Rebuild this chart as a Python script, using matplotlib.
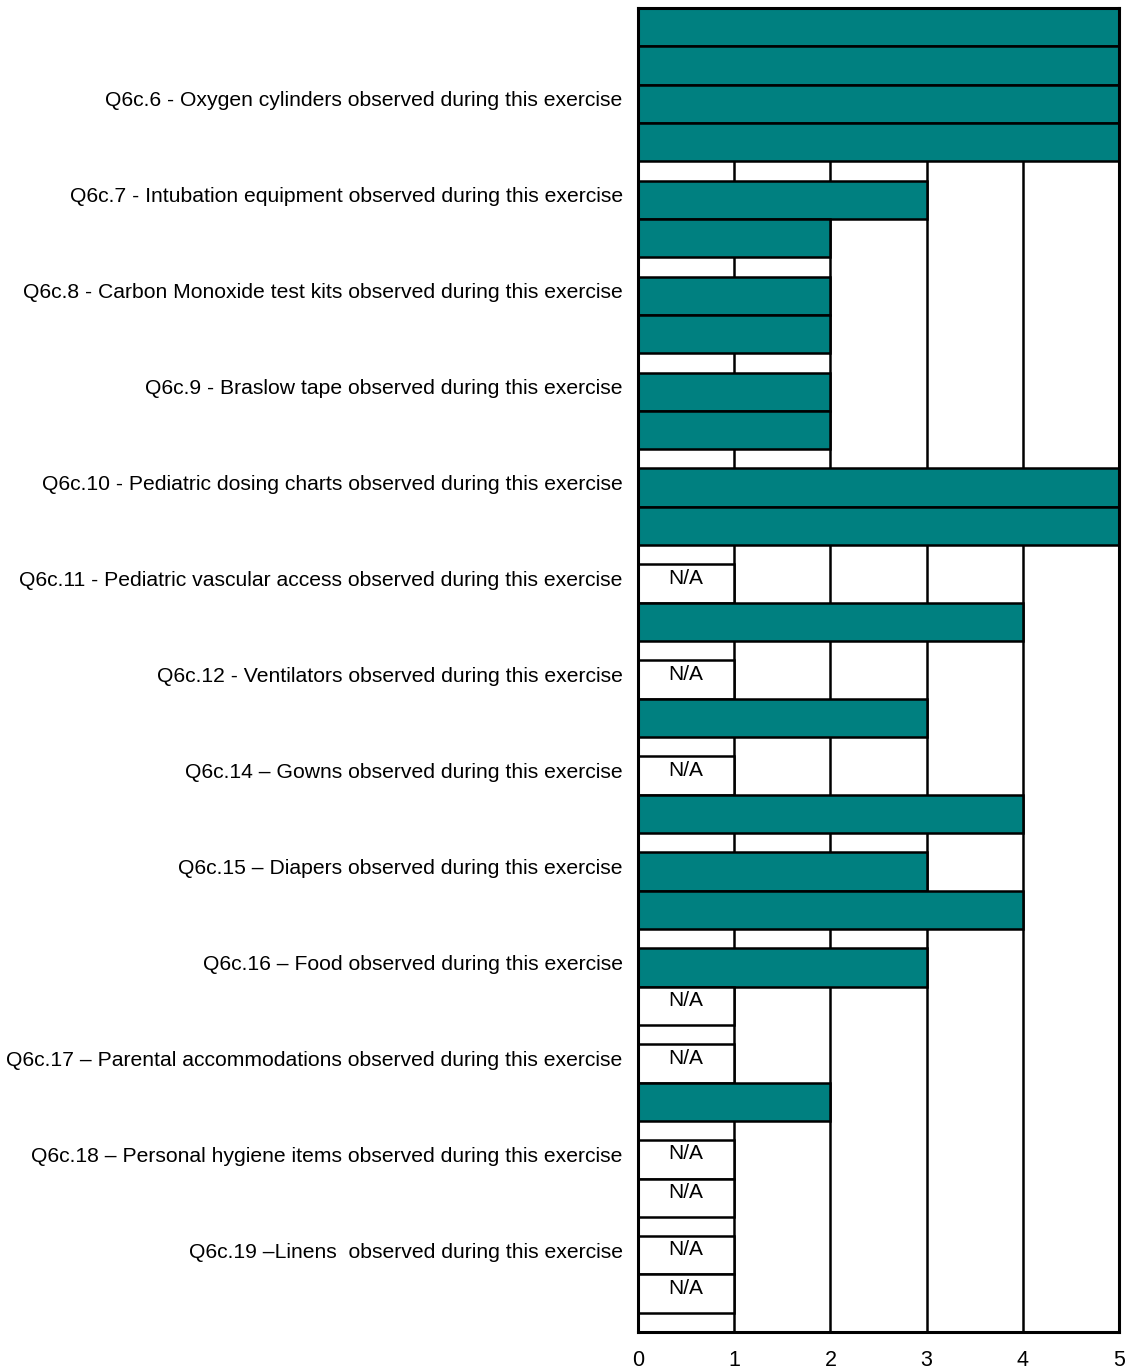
from matplotlib import pyplot as plt
import numpy as np

plt.rcParams['font.family'] = ['Liberation Sans', 'DejaVu Sans']

questions = [
    "Q6c.6 - Oxygen cylinders observed during this exercise",
    "Q6c.7 - Intubation equipment observed during this exercise",
    "Q6c.8 - Carbon Monoxide test kits observed during this exercise",
    "Q6c.9 - Braslow tape observed during this exercise",
    "Q6c.10 - Pediatric dosing charts observed during this exercise",
    "Q6c.11 - Pediatric vascular access observed during this exercise",
    "Q6c.12 - Ventilators observed during this exercise",
    "Q6c.14 \u2013 Gowns observed during this exercise",
    "Q6c.15 \u2013 Diapers observed during this exercise",
    "Q6c.16 \u2013 Food observed during this exercise",
    "Q6c.17 \u2013 Parental accommodations observed during this exercise",
    "Q6c.18 \u2013 Personal hygiene items observed during this exercise",
    "Q6c.19 \u2013Linens  observed during this exercise",
]

# two responses per question, None = N/A
first_response = [5, 3, 2, 2, 5, None, None, None, 3, 3, None, None, None]
second_response = [5, 2, 2, 2, 5, 4, 3, 4, 4, None, 2, None, None]
# bars carried over above the first question
carry_over = [5, 5]

x_ticks = [0, 1, 2, 3, 4, 5]

teal = '#008080'
edge_lw = 1.8

fig = plt.figure(figsize=(11.27, 13.69), dpi=100)
ax = fig.add_axes([0.5661, 0.0270, 0.4268, 0.9672])

n = len(questions)
group_start = 1.5 + 2.5 * np.arange(n)
y_first = group_start + 1.0
y_second = group_start + 2.0

def draw_bars(ys, vals):
    for y, v in zip(ys, vals):
        if v is None:
            ax.barh(y, 1, height=1.0, color='white', edgecolor='black',
                    linewidth=edge_lw, zorder=3)
            ax.text(0.5, y - 0.14, 'N/A', ha='center', va='center',
                    fontsize=15, zorder=4)
        else:
            ax.barh(y, v, height=1.0, color=teal, edgecolor='black',
                    linewidth=edge_lw, zorder=3)

draw_bars([0.5, 1.5], carry_over)
draw_bars(y_first, first_response)
draw_bars(y_second, second_response)

ax.set_xlim(0, 5)
ax.set_ylim(34.5, 0)
ax.set_xticks(x_ticks)
ax.set_yticks(group_start + 0.87)
ax.set_yticklabels(questions)
ax.tick_params(axis='x', length=0, pad=13, labelsize=15.5)
ax.tick_params(axis='y', length=0, pad=11, labelsize=15.2)
ax.grid(axis='x', color='black', linewidth=edge_lw, zorder=1)
ax.grid(axis='y', visible=False)
ax.set_axisbelow(True)
for s in ax.spines.values():
    s.set_color('black')
    s.set_linewidth(2.2)
    s.set_zorder(5)

fig.savefig('out.png', dpi=100, facecolor='white')
